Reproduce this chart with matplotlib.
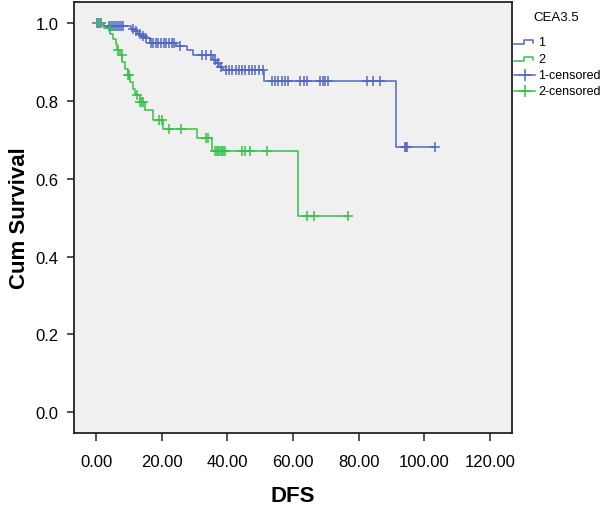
import matplotlib
matplotlib.use("Agg")
import matplotlib.pyplot as plt
from matplotlib.lines import Line2D
import numpy as np

plt.rcParams['font.family'] = ['Liberation Sans', 'DejaVu Sans']

# group 1 (CEA <= 3.5): step times and survival after each step
times1 = [0, 2.0, 10.5, 11.8, 12.8, 13.8, 14.8, 16.3, 24.3, 27.8, 29.4,
          35.6, 36.6, 37.6, 38.6, 51.3, 91.5]
surv1 = [1.0, 0.991, 0.985, 0.978, 0.972, 0.966, 0.960, 0.948, 0.941, 0.929,
         0.916, 0.905, 0.896, 0.887, 0.879, 0.850, 0.680]
end1 = 103.3
cens1 = [0.3, 1.0, 1.6, 4.0, 4.6, 5.2, 5.8, 6.4, 7.0, 7.6, 8.2, 11.2, 12.3,
         13.3, 14.3, 15.3, 16.8, 17.5, 18.3, 19.0, 19.8, 20.6, 21.4, 22.2,
         23.0, 23.8, 25.5, 32.4, 33.4, 35.0, 36.1, 37.1, 38.1, 39.5, 40.5,
         41.5, 42.5, 43.5, 44.5, 45.5, 46.5, 47.5, 48.5, 49.5, 50.8, 53.5,
         54.5, 55.4, 56.6, 57.5, 58.5, 62.1, 63.2, 64.2, 68.2, 69.0, 69.8,
         70.7, 82.5, 84.5, 86.5, 94.2, 94.4, 94.6, 103.3]

# group 2 (CEA > 3.5)
times2 = [0, 2.3, 4.4, 5.3, 6.0, 6.5, 7.2, 8.0, 8.8, 9.6, 10.4, 11.2, 11.9,
          13.4, 14.9, 17.5, 20.5, 30.9, 35.2, 61.6]
surv2 = [1.0, 0.986, 0.972, 0.958, 0.944, 0.930, 0.916, 0.899, 0.882, 0.865,
         0.848, 0.831, 0.814, 0.797, 0.775, 0.750, 0.728, 0.703, 0.671, 0.504]
end2 = 76.8
cens2 = [1.0, 4.3, 6.8, 7.8, 9.8, 10.1, 12.4, 13.4, 13.9, 14.2, 19.1, 20.2,
         22.2, 25.8, 33.4, 34.0, 36.3, 36.8, 37.3, 37.8, 38.3, 38.8, 39.3,
         44.6, 45.4, 46.9, 52.0, 64.3, 66.5, 76.8]

blue = '#5068c4'
green = '#38c148'

W, H = 600, 506
fig = plt.figure(figsize=(W / 100, H / 100), dpi=100)
ax = fig.add_axes([73.7 / W, 1 - 433.7 / H, (511.7 - 73.7) / W, (433.7 - 3) / H])
ax.set_facecolor('#f0f0f0')


def km(times, surv, end, cens, color):
    t = np.append(times, end)
    s = np.append(surv, surv[-1])
    ax.step(t, s, where='post', color=color, lw=1.1)
    cy = np.array(surv)[np.searchsorted(times, cens, side='right') - 1]
    ax.plot(cens, cy, '+', color=color, ms=7, mew=1.1)


km(times1, surv1, end1, cens1, blue)
km(times2, surv2, end2, cens2, green)

ax.set_xlim(-6.8, 126.6)
ax.set_ylim(-0.052, 1.053)
ax.set_xticks(np.arange(0, 121, 20))
ax.set_xticklabels(['%.2f' % v for v in np.arange(0, 121, 20)])
ax.set_yticks(np.arange(0, 1.01, 0.2))
ax.set_yticklabels(['%.1f' % v for v in np.arange(0, 1.01, 0.2)])
ax.tick_params(axis='x', length=6, width=1.2, pad=9, labelsize=12, color='#333333')
ax.tick_params(axis='y', length=5, width=1.2, pad=6, labelsize=12, color='#333333')
for sp in ax.spines.values():
    sp.set_linewidth(1.3)
    sp.set_color('#222222')

fig.text(20 / W, 1 - 218 / H, 'Cum Survival', rotation=90, ha='center', va='center',
         fontsize=16, fontweight='bold')
fig.text(293 / W, 1 - 497 / H, 'DFS', ha='center', va='center',
         fontsize=16, fontweight='bold')

# legend drawn by hand to the right of the axes
fig.text(556 / W, 1 - 18 / H, 'CEA3.5', ha='center', va='center', fontsize=9.5)
leg_y = [43, 60, 76, 92]
leg_txt = ['1', '2', '1-censored', '2-censored']
leg_col = [blue, green, blue, green]
for i, (yy, txt, col) in enumerate(zip(leg_y, leg_txt, leg_col)):
    if i < 2:
        xs = np.array([514, 524, 524, 533, 533])
        ys = np.array([yy + 1.5, yy + 1.5, yy - 2.5, yy - 2.5, yy + 0.5])
        fig.add_artist(Line2D(xs / W, 1 - ys / H, color=col, lw=1.1))
    else:
        fig.add_artist(Line2D(np.array([514, 535]) / W, 1 - np.array([yy, yy]) / H,
                              color=col, lw=1.1))
        fig.add_artist(Line2D([525 / W], [1 - yy / H], marker='+', color=col,
                              ms=8, mew=1.1))
    fig.text(538 / W, 1 - yy / H, txt, ha='left', va='center', fontsize=9)

fig.savefig('out.png', dpi=100)
